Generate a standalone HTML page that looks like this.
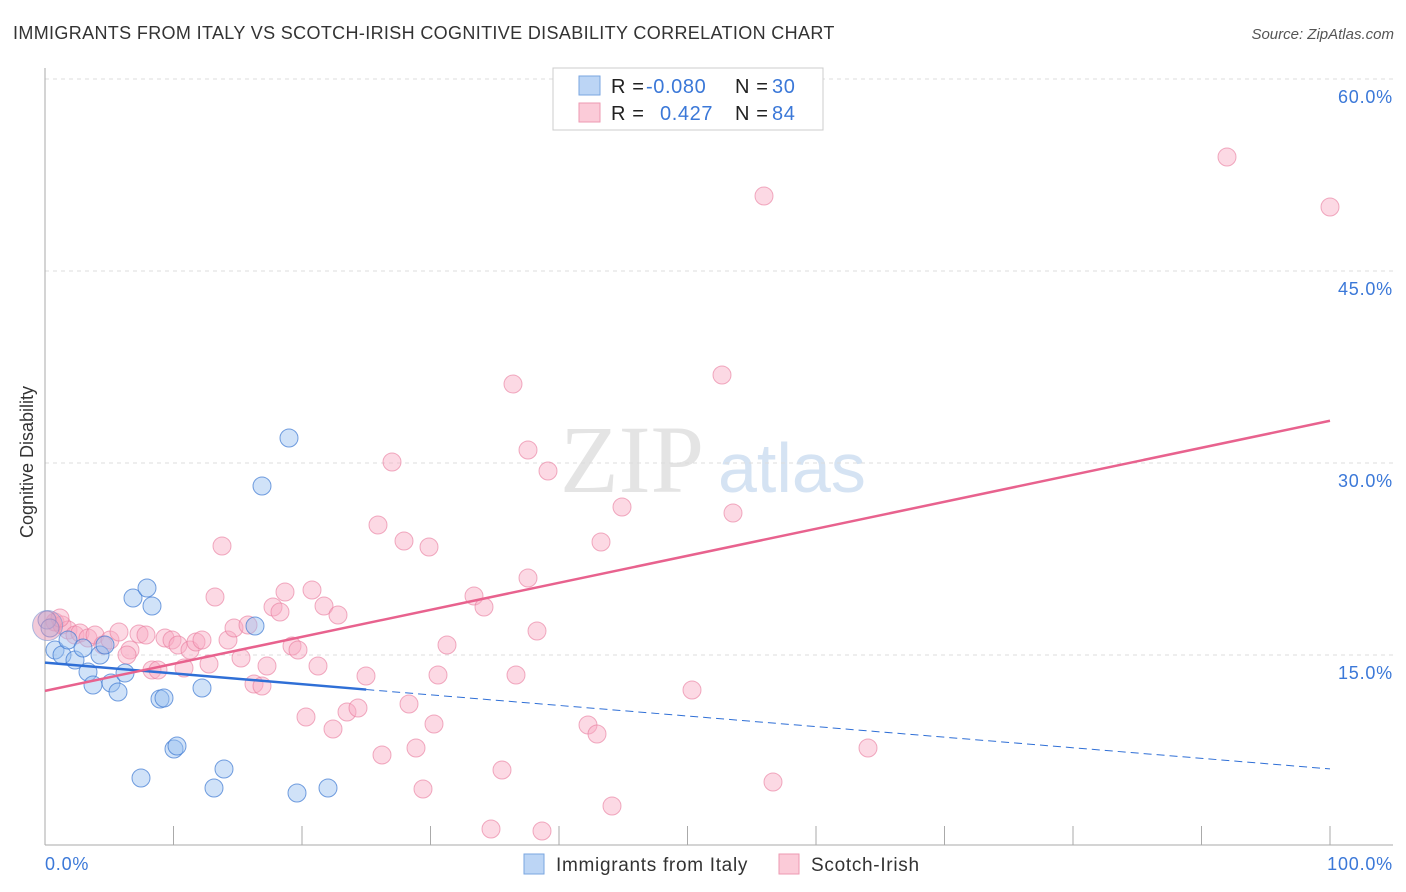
<!DOCTYPE html>
<html><head><meta charset="utf-8"><style>
body{margin:0;background:#fff;font-family:"Liberation Sans",sans-serif}
svg{display:block}
</style></head><body>
<svg width="1406" height="892" viewBox="0 0 1406 892">
<text x="13" y="39" font-size="18" letter-spacing="0.35" fill="#333">IMMIGRANTS FROM ITALY VS SCOTCH-IRISH COGNITIVE DISABILITY CORRELATION CHART</text>
<text x="1394" y="39" font-size="15" fill="#555" font-style="italic" text-anchor="end">Source: ZipAtlas.com</text>
<text x="560" y="492" font-size="96" fill="#e4e4e4" font-family="Liberation Serif">ZIP</text>
<text x="718" y="492" font-size="70" fill="#d5e3f3">atlas</text>
<g id="grid"></g>
<line x1="45" y1="68" x2="45" y2="845" stroke="#aaa"/>
<line x1="45" y1="845" x2="1393" y2="845" stroke="#aaa"/>
<g id="xticks"></g>
<text x="27" y="456" font-size="18" fill="#333" transform="rotate(-90 33 456)" text-anchor="middle">Cognitive Disability</text>
<text x="45" y="870" font-size="18" letter-spacing="0.8" fill="#3b78d8">0.0%</text>
<text x="1393" y="870" font-size="18" letter-spacing="0.8" fill="#3b78d8" text-anchor="end">100.0%</text>
<g id="pts"></g>
<g id="lines"></g>
<g>
<rect x="553" y="68" width="270" height="62" fill="#fff" stroke="#ccc"/>
<rect x="579" y="76" width="21" height="19" fill="#bcd5f5" stroke="#7aa6e0"/>
<rect x="579" y="103" width="21" height="19" fill="#fbcbd8" stroke="#ee9ab2"/>
<text x="611" y="93" font-size="20" fill="#222" letter-spacing="0.6">R = <tspan x="646" fill="#3b78d8">-0.080</tspan><tspan x="735">N = </tspan><tspan x="772" fill="#3b78d8">30</tspan></text>
<text x="611" y="120" font-size="20" fill="#222" letter-spacing="0.6">R = <tspan x="660" fill="#3b78d8">0.427</tspan><tspan x="735">N = </tspan><tspan x="772" fill="#3b78d8">84</tspan></text>
</g>
<g>
<rect x="524" y="854" width="20" height="20" fill="#bcd5f5" stroke="#7aa6e0"/>
<text x="556" y="871" font-size="19" letter-spacing="0.7" fill="#333">Immigrants from Italy</text>
<rect x="779" y="854" width="20" height="20" fill="#fbcbd8" stroke="#ee9ab2"/>
<text x="811" y="871" font-size="19" letter-spacing="0.7" fill="#333">Scotch-Irish</text>
</g>
</svg>
<script>
const yTicks=[15,30,45,60];
const yTickLabels=["15.0%","30.0%","45.0%","60.0%"];
const xTicks=[0,10,20,30,40,50,60,70,80,90,100];
const bluePx=[[47,620],[55,650],[62,655],[68,640],[75,660],[83,648],[88,672],[93,685],[100,655],[105,645],[111,683],[118,692],[125,673],[133,598],[141,778],[147,588],[152,606],[160,699],[164,698],[174,749],[177,746],[202,688],[214,788],[224,769],[255,626],[262,486],[289,438],[297,793],[328,788],[50,628]];
const pinkPx=[[55,622],[62,625],[68,630],[75,635],[80,633],[88,638],[95,635],[103,645],[110,640],[119,632],[130,650],[127,655],[139,634],[146,635],[152,670],[158,670],[165,638],[172,640],[178,645],[184,668],[190,650],[196,642],[202,640],[209,664],[215,597],[222,546],[228,640],[234,628],[241,658],[248,625],[254,684],[262,686],[267,666],[273,607],[280,612],[285,592],[292,646],[298,650],[306,717],[312,590],[318,666],[324,606],[333,729],[338,615],[347,712],[358,708],[366,676],[378,525],[382,755],[392,462],[404,541],[409,704],[416,748],[423,789],[429,547],[434,724],[438,675],[447,645],[474,596],[484,607],[491,829],[502,770],[513,384],[516,675],[528,450],[528,578],[537,631],[542,831],[548,471],[588,725],[597,734],[601,542],[612,806],[622,507],[692,690],[722,375],[733,513],[764,196],[773,782],[868,748],[1227,157],[1330,207],[60,618]];
const blueX=bluePx.map(p=>(p[0]-45)/12.85), blueY=bluePx.map(p=>(847-p[1])/12.8);
const pinkX=pinkPx.map(p=>(p[0]-45)/12.85), pinkY=pinkPx.map(p=>(847-p[1])/12.8);
const blueTrend=[[0,14.4],[25,12.3],[100,6.1]];
const pinkTrend=[[0,12.2],[100,33.3]];
const sx=v=>45+v*12.85, sy=v=>847-v*12.8;
const NS='http://www.w3.org/2000/svg';
function mk(t,a,p){const e=document.createElementNS(NS,t);for(const k in a)e.setAttribute(k,a[k]);p.appendChild(e);return e;}
const grid=document.getElementById('grid');
yTicks.forEach((t,i)=>{
 const l=mk('line',{x1:45,x2:1393,y1:sy(t),y2:sy(t),stroke:'#ddd','stroke-dasharray':'4,4'},grid);
 
 
 const tx=mk('text',{x:1393,y:sy(t)+24,'font-size':18,'letter-spacing':0.8,fill:'#3b78d8','text-anchor':'end'},grid);
 tx.textContent=yTickLabels[i];
 
 
});
const xt=document.getElementById('xticks');
xTicks.forEach(t=>{
 const l=mk('line',{x1:sx(t),x2:sx(t),y1:826,y2:845,stroke:'#aaa'},xt);
 
 
});
const pts=document.getElementById('pts');
pinkX.forEach((x,i)=>{
 const c=mk('circle',{cx:sx(x),cy:sy(pinkY[i]),r:9,fill:'rgba(248,170,195,0.45)',stroke:'rgba(232,120,155,0.6)','stroke-width':1},pts);
 
 
});
blueX.forEach((x,i)=>{
 const c=mk('circle',{cx:sx(x),cy:sy(blueY[i]),r:9,fill:'rgba(150,190,240,0.45)',stroke:'rgba(60,120,210,0.7)','stroke-width':1},pts);
 
 
});
const big=mk('circle',{cx:sx(0.2),cy:sy(17.3),r:15,fill:'rgba(230,150,180,0.5)',stroke:'rgba(120,150,210,0.6)'},pts);


const lg=document.getElementById('lines');
const bl=mk('line',{x1:sx(blueTrend[0][0]),y1:sy(blueTrend[0][1]),x2:sx(blueTrend[1][0]),y2:sy(blueTrend[1][1]),stroke:'#2f6fd6','stroke-width':2.5},lg);


const bd=mk('line',{x1:sx(blueTrend[1][0]),y1:sy(blueTrend[1][1]),x2:sx(blueTrend[2][0]),y2:sy(blueTrend[2][1]),stroke:'#2f6fd6','stroke-width':1,'stroke-dasharray':'8,5'},lg);


const pl=mk('line',{x1:sx(pinkTrend[0][0]),y1:sy(pinkTrend[0][1]),x2:sx(pinkTrend[1][0]),y2:sy(pinkTrend[1][1]),stroke:'#e8628e','stroke-width':2.5},lg);


</script>
</body></html>
